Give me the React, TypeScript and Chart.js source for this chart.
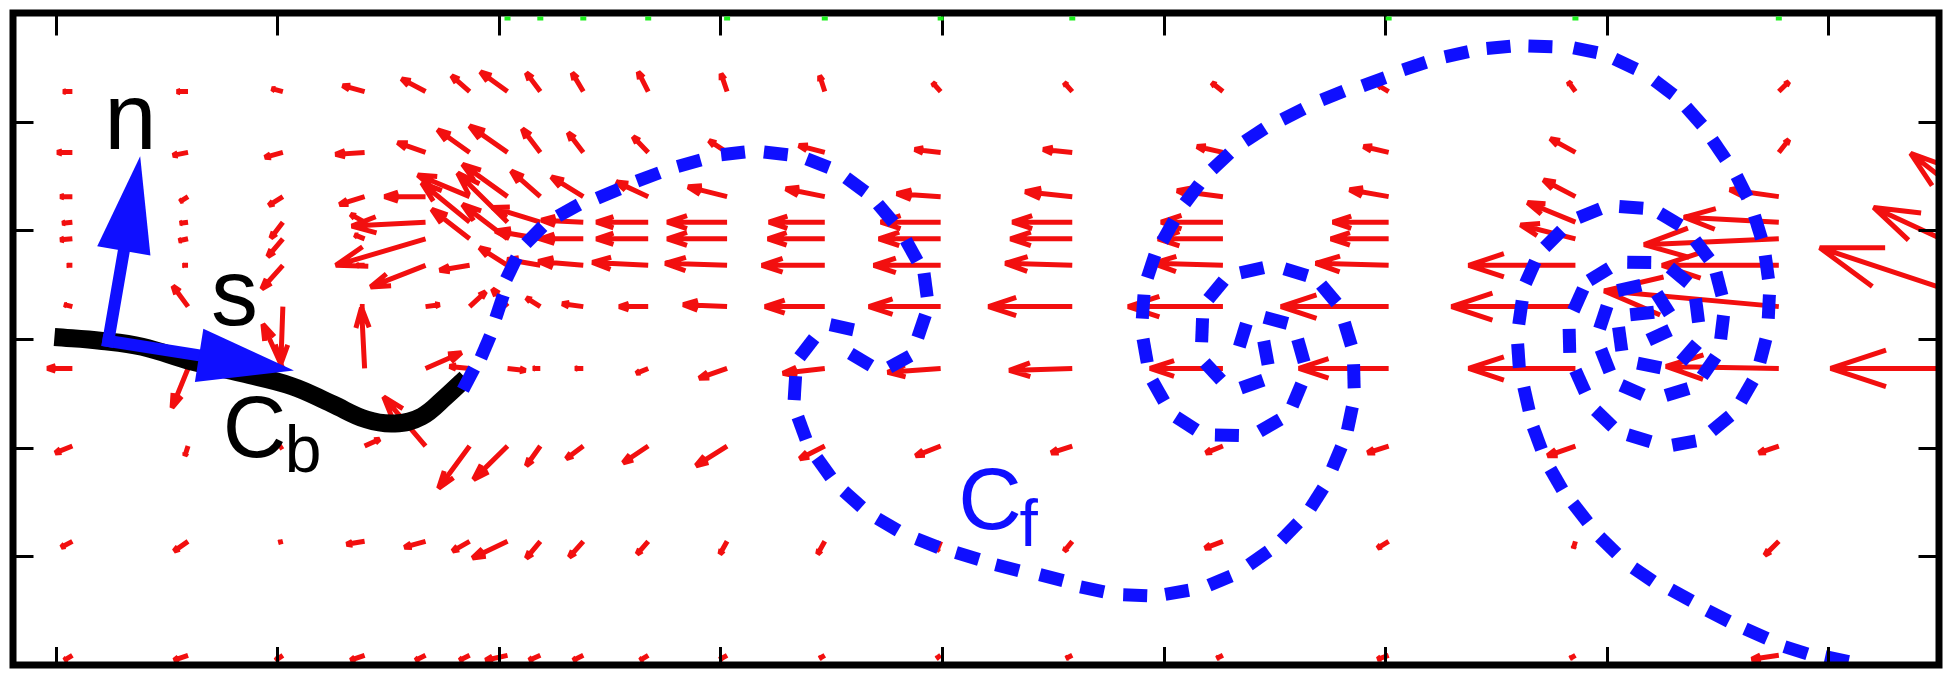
import React, { useEffect, useRef } from "react";
import { Chart, registerables } from "chart.js";

Chart.register(...registerables);

const RED = "#f20f0f";
const BLUE = "#0f0fff";
const GREEN = "#1ef01e";

// Axis ticks (inward marks, no labels)
const xTickValues = [0, 1, 2, 3, 4, 5, 6, 7, 8];
const yTickValues = [-2, -1, 0, 1, 2];

// Velocity field grid (stretched grid)
const quiverX = [0.075, 0.597, 1.025, 1.394, 1.669, 1.868, 2.039, 2.187, 2.381, 2.674, 3.03, 3.471, 3.994, 4.588, 5.268, 6.016, 6.859, 7.777, 8.768];
const quiverY = [2.277, 1.717, 1.31, 1.075, 0.922, 0.678, 0.298, -0.271, -0.985, -1.862, -2.911];
const QUIVER_SCALE = 0.1;

const quiverU = [
  [-0.41, -0.5, -0.5, -0.99, -1.08, -0.81, -1.22, -0.63, -0.5, -0.45, -0.27, -0.23, -0.36, -0.36, -0.5, -0.45, -0.32, 0.45, 0],
  [-0.68, -0.68, -0.81, -1.31, -1.26, -1.44, -1.71, -0.81, -0.68, -0.68, -0.81, -1.17, -1.17, -1.31, -1.17, -1.13, -1.13, 0.45, 0],
  [-0.54, -0.36, -0.63, -1.13, -1.85, -2.34, -2.03, -1.31, -1.44, -1.44, -1.76, -1.76, -1.98, -2.12, -2.07, -1.76, -1.44, -2.21, -1.8],
  [-0.45, -0.36, -0.54, -0.63, -3.33, -2.16, -2.25, -2.16, -1.89, -2.34, -2.7, -2.52, -2.7, -2.7, -2.79, -2.52, -2.16, -4.28, -3.96],
  [-0.54, -0.41, -0.68, -0.45, -4.05, -1.71, -2.03, -2.03, -1.94, -2.34, -2.7, -2.57, -2.79, -2.79, -2.93, -2.61, -2.48, -6.08, -2.25],
  [-0.23, -0.23, -0.95, -0.36, -2.48, -1.35, -1.26, -1.49, -2.03, -2.52, -2.79, -2.84, -3.02, -3.02, -3.15, -3.29, -4.82, -5.27, -5.63],
  [-0.36, -0.68, -0.09, -0.18, 0.63, 0.72, -0.68, -0.63, -0.95, -1.31, -1.98, -2.7, -3.24, -3.78, -4.28, -4.86, -5.59, -7.88, -8.06],
  [-1.13, -0.72, -0.9, -0.14, 1.62, -0.9, 0.81, -0.32, -0.36, -0.54, -1.26, -1.89, -2.39, -2.84, -3.29, -4.05, -4.82, -5.09, -7.57],
  [-0.77, -0.14, -0.14, 0.68, -1.89, -1.4, -1.53, -0.63, -0.77, -1.13, -1.4, -1.13, -1.13, -0.95, -0.77, -0.95, -1.26, -0.9, 0],
  [-0.5, -0.63, -0.18, -0.81, -0.95, -0.77, -1.58, -0.63, -0.63, -0.5, -0.32, -0.32, -0.18, -0.36, -0.81, -0.5, -0.09, -0.63, 0],
  [-0.36, -0.63, -0.32, -0.63, -0.45, -0.45, -0.99, -0.5, -0.45, -0.36, -0.32, -0.23, -0.18, -0.27, -0.27, -0.5, -0.23, -1.22, 0],
];

const quiverV = [
  [0, 0, 0.27, 0.54, 1.17, 1.45, 1.81, 1.72, 1.72, 1.81, 1.63, 1.45, 0.81, 0.81, 0.81, 0.54, 0.9, 0.9, 0],
  [0, -0.27, -0.45, -0.18, 0.9, 2.08, 2.44, 2.17, 1.81, 1.45, 1.08, 0.63, 0.27, 0.27, 0.54, 0.54, 1.27, 1.17, 0],
  [0, -0.45, -0.81, -0.72, 0, 1.99, 2.98, 2.35, 1.81, 1.36, 0.9, 0.72, 0.27, 0.45, 0.54, 0.63, 1.54, 0.63, 0.72],
  [-0.09, -0.09, -1.45, 0.72, -0.36, 3.61, 4.52, 1.36, 0.18, 0, 0, 0, 0, 0, 0, 0, 1.81, 0.45, 6.33],
  [-0.09, -0.18, -1.63, 0.36, -2.44, 2.71, 3.16, 0.72, 0, 0, 0, 0, 0, 0, 0, 0, 1.27, -0.54, 2.71],
  [0, 0, -2.17, 0, -1.99, -0.45, 1.63, 0.54, 0.36, 0.27, 0.18, 0, 0, 0.18, 0.18, 0.18, 0, 0, 5.33],
  [0.18, 1.9, -5.24, 0, 0.18, 1.36, 1.63, 0.81, 0.27, 0, 0.18, 0, 0, 0, 0, 0, 0, 1.45, 5.42],
  [0, -3.61, 4.07, 5.6, 1.45, 0.18, -0.18, 0, 0, -0.45, -0.9, -0.45, -0.36, -0.18, 0, 0, 0, 0.18, 0],
  [-0.63, -0.9, -0.18, 0.63, 4.52, -3.89, -3.07, -1.81, -1.17, -1.54, -1.81, -1.17, -0.9, -0.63, -0.63, -0.63, -0.9, -0.63, 0],
  [-0.54, -0.9, -0.09, -0.27, -0.54, -0.9, -1.54, -1.54, -1.45, -1.17, -1.17, -1.17, -0.9, -0.9, -0.63, -0.63, -0.63, -1.27, 0],
  [-0.45, -0.45, -0.45, -0.45, -0.45, -0.45, -0.45, -0.45, -0.45, -0.45, -0.36, -0.27, -0.27, -0.27, -0.27, -0.36, -0.27, -0.36, 0],
];

// Small green marks along the top edge
const topMarkX = [2.039, 2.187, 2.381, 2.674, 3.03, 3.471, 3.994, 4.588, 6.016, 6.859, 7.777];
const topMarkY = 2.966;

// Body curve C_b (thick black)
const bodyX = [-0.006, 0.21, 0.39, 0.615, 0.841, 1.066, 1.246, 1.403, 1.53, 1.651, 1.764, 1.85];
const bodyY = [0.018, -0.018, -0.072, -0.208, -0.316, -0.434, -0.596, -0.741, -0.777, -0.714, -0.524, -0.361];

// Free vortex sheet C_f (blue dashed), dash centres in order along the curve
const filamentX = [1.863, 1.94, 2.003, 2.057, 2.16, 2.314, 2.494, 2.674, 2.859, 3.057, 3.25, 3.44, 3.611, 3.746, 3.863, 3.926, 3.908, 3.809, 3.633, 3.548, 3.39, 3.336, 3.368, 3.467, 3.597, 3.755, 3.935, 4.115, 4.295, 4.494, 4.678, 4.872, 5.061, 5.255, 5.43, 5.57, 5.692, 5.782, 5.841, 5.859, 5.832, 5.746, 5.597, 5.399, 5.237, 5.174, 5.223, 5.399, 5.462, 5.358, 5.507, 5.62, 5.602, 5.48, 5.286, 5.102, 4.976, 4.917, 4.908, 4.944, 5.021, 5.129, 5.259, 5.412, 5.584, 5.764, 5.949, 6.133, 6.323, 6.512, 6.701, 6.904, 7.084, 7.259, 7.395, 7.507, 7.611, 7.683, 7.723, 7.732, 7.705, 7.633, 7.516, 7.35, 7.147, 6.989, 6.881, 6.832, 6.872, 6.967, 7.147, 7.327, 7.408, 7.372, 7.192, 7.061, 7.16, 7.237, 7.255, 7.102, 6.985, 6.994, 7.115, 7.318, 7.462, 7.521, 7.507, 7.431, 7.286, 7.111, 6.922, 6.759, 6.656, 6.611, 6.602, 6.638, 6.687, 6.773, 6.881, 7.007, 7.165, 7.336, 7.503, 7.674, 7.854, 8.039];
const filamentY = [-0.37, -0.072, 0.298, 0.651, 0.958, 1.184, 1.337, 1.491, 1.617, 1.708, 1.708, 1.617, 1.419, 1.157, 0.813, 0.497, 0.117, -0.208, -0.19, 0.108, -0.081, -0.452, -0.822, -1.184, -1.473, -1.708, -1.879, -1.997, -2.105, -2.196, -2.304, -2.358, -2.331, -2.223, -2.015, -1.771, -1.464, -1.093, -0.732, -0.343, 0.045, 0.416, 0.614, 0.633, 0.452, 0.081, -0.298, -0.416, -0.127, 0.036, 0.172, -0.108, -0.515, -0.795, -0.886, -0.777, -0.479, -0.108, 0.298, 0.669, 0.994, 1.337, 1.635, 1.879, 2.069, 2.241, 2.367, 2.512, 2.62, 2.684, 2.693, 2.657, 2.53, 2.313, 2.051, 1.744, 1.401, 1.03, 0.66, 0.298, -0.108, -0.479, -0.777, -0.958, -0.913, -0.732, -0.389, -0.018, 0.361, 0.596, 0.705, 0.587, 0.262, -0.127, -0.244, 0, 0.235, 0.036, 0.325, 0.47, 0.199, -0.199, -0.47, -0.488, -0.253, 0.108, 0.506, 0.822, 1.102, 1.211, 1.157, 0.922, 0.614, 0.244, -0.154, -0.551, -0.913, -1.292, -1.599, -1.898, -2.169, -2.358, -2.548, -2.711, -2.864, -2.946];

// Local frame vectors (n, s) at the body's leading point
const frameOrigin = [0.237, -0.018];
const normalTip = [0.381, 1.681];
const tangentTip = [1.075, -0.289];

// Text labels
const labelText = ["n", "s", "C", "b", "C", "f"];
const labelX = [0.219, 0.701, 0.754, 1.033, 4.073, 4.35];
const labelY = [1.744, 0.127, -1.084, -1.22, -1.753, -1.907];
const labelSize = [94, 94, 88, 66, 88, 66];
const labelColor = ["#000000", "#000000", "#000000", "#000000", BLUE, BLUE];

function makeRect(w: number, h: number, color: string) {
  const c = document.createElement("canvas");
  c.width = w;
  c.height = h;
  const g = c.getContext("2d")!;
  g.fillStyle = color;
  g.fillRect(0, 0, w, h);
  return c;
}

function drawBlockArrow(ctx: CanvasRenderingContext2D, x0: number, y0: number, x1: number, y1: number) {
  const headLen = 96;
  const headHalf = 27;
  const dx = x1 - x0;
  const dy = y1 - y0;
  const L = Math.hypot(dx, dy);
  const ux = dx / L;
  const uy = dy / L;
  const bx = x1 - ux * headLen;
  const by = y1 - uy * headLen;
  ctx.strokeStyle = BLUE;
  ctx.fillStyle = BLUE;
  ctx.lineWidth = 12;
  ctx.lineCap = "square";
  ctx.beginPath();
  ctx.moveTo(x0, y0);
  ctx.lineTo(bx + ux * 4, by + uy * 4);
  ctx.stroke();
  ctx.beginPath();
  ctx.moveTo(x1, y1);
  ctx.lineTo(bx - uy * headHalf, by + ux * headHalf);
  ctx.lineTo(bx + uy * headHalf, by - ux * headHalf);
  ctx.closePath();
  ctx.fill();
}

const quiverPlugin = {
  id: "quiverField",
  beforeDatasetsDraw(chart: any) {
    const { ctx, chartArea: a, scales } = chart;
    const xs = scales.x;
    const ys = scales.y;
    ctx.save();
    ctx.beginPath();
    ctx.rect(a.left, a.top, a.right - a.left, a.bottom - a.top);
    ctx.clip();
    ctx.strokeStyle = RED;
    ctx.lineWidth = 5;
    ctx.lineCap = "butt";
    ctx.lineJoin = "bevel";
    for (let r = 0; r < quiverY.length; r++) {
      for (let c = 0; c < quiverX.length; c++) {
        const u = quiverU[r][c] * QUIVER_SCALE;
        const v = quiverV[r][c] * QUIVER_SCALE;
        if (u === 0 && v === 0) continue;
        const x0 = xs.getPixelForValue(quiverX[c]);
        const y0 = ys.getPixelForValue(quiverY[r]);
        const x1 = xs.getPixelForValue(quiverX[c] + u);
        const y1 = ys.getPixelForValue(quiverY[r] + v);
        const dx = x1 - x0;
        const dy = y1 - y0;
        const al = 0.33;
        const be = 0.33;
        const hx1 = x1 - al * (dx + be * dy);
        const hy1 = y1 - al * (dy - be * dx);
        const hx2 = x1 - al * (dx - be * dy);
        const hy2 = y1 - al * (dy + be * dx);
        ctx.beginPath();
        ctx.moveTo(x0, y0);
        ctx.lineTo(x1, y1);
        ctx.moveTo(hx1, hy1);
        ctx.lineTo(x1, y1);
        ctx.lineTo(hx2, hy2);
        ctx.stroke();
      }
    }
    ctx.restore();
  },
};

const overlayPlugin = {
  id: "overlay",
  afterDatasetsDraw(chart: any) {
    const { ctx, chartArea: a, scales } = chart;
    const xs = scales.x;
    const ys = scales.y;
    ctx.save();
    // n and s unit vectors
    const ox = xs.getPixelForValue(frameOrigin[0]);
    const oy = ys.getPixelForValue(frameOrigin[1]);
    drawBlockArrow(ctx, ox, oy, xs.getPixelForValue(tangentTip[0]), ys.getPixelForValue(tangentTip[1]));
    drawBlockArrow(ctx, ox, oy, xs.getPixelForValue(normalTip[0]), ys.getPixelForValue(normalTip[1]));

    // labels
    ctx.textAlign = "left";
    ctx.textBaseline = "alphabetic";
    for (let i = 0; i < labelText.length; i++) {
      ctx.font = `${labelSize[i]}px "Liberation Sans", Arial, sans-serif`;
      ctx.fillStyle = labelColor[i];
      ctx.fillText(labelText[i], xs.getPixelForValue(labelX[i]), ys.getPixelForValue(labelY[i]));
    }

    // frame and inward ticks
    ctx.strokeStyle = "#000";
    ctx.lineWidth = 7;
    ctx.lineJoin = "miter";
    ctx.strokeRect(a.left, a.top, a.right - a.left, a.bottom - a.top);
    ctx.lineWidth = 3;
    ctx.lineCap = "butt";
    ctx.beginPath();
    for (const v of xTickValues) {
      const px = Math.round(xs.getPixelForValue(v)) + 0.5;
      ctx.moveTo(px, a.top + 3);
      ctx.lineTo(px, a.top + 22.5);
      ctx.moveTo(px, a.bottom - 3);
      ctx.lineTo(px, a.bottom - 18);
    }
    for (const v of yTickValues) {
      const py = Math.round(ys.getPixelForValue(v)) + 0.5;
      ctx.moveTo(a.left + 3, py);
      ctx.lineTo(a.left + 20.5, py);
      ctx.moveTo(a.right - 3, py);
      ctx.lineTo(a.right - 20.5, py);
    }
    ctx.stroke();

    // green marks just below the top edge (drawn over the frame line)
    const gw = 6;
    const gh = 4;
    ctx.fillStyle = GREEN;
    for (const v of topMarkX) {
      const px = xs.getPixelForValue(v);
      const py = ys.getPixelForValue(topMarkY);
      if (px < a.left || px > a.right) continue;
      ctx.fillRect(px - gw / 2, Math.max(py - gh / 2, a.top + 3.5), gw, gh);
    }
    ctx.restore();
  },
};

export default function App() {
  const canvasRef = useRef<HTMLCanvasElement | null>(null);

  useEffect(() => {
    const canvas = canvasRef.current;
    if (!canvas) return;
    const dashImg = makeRect(24, 13, BLUE);

    const nF = Math.min(filamentX.length, filamentY.length);
    const filamentData = [] as { x: number; y: number }[];
    for (let i = 0; i < nF; i++) filamentData.push({ x: filamentX[i], y: filamentY[i] });

    const bodyData = bodyX.map((x, i) => ({ x, y: bodyY[i] }));

    const chart = new Chart(canvas, {
      type: "scatter",
      data: {
        datasets: [
          {
            label: "C_b",
            data: bodyData,
            showLine: true,
            borderColor: "#000000",
            borderWidth: 18,
            borderCapStyle: "butt",
            tension: 0.4,
            pointRadius: 0,
            order: 3,
          } as any,
          {
            label: "C_f",
            data: filamentData,
            showLine: false,
            pointStyle: dashImg as any,
            pointRadius: 12,
            pointRotation: (ctx: any) => {
              const i = ctx.dataIndex;
              const xs = ctx.chart.scales.x;
              const ys = ctx.chart.scales.y;
              if (!xs || !ys) return 0;
              const a = Math.max(0, i - 1);
              const b = Math.min(nF - 1, i + 1);
              const dx = xs.getPixelForValue(filamentX[b]) - xs.getPixelForValue(filamentX[a]);
              const dy = ys.getPixelForValue(filamentY[b]) - ys.getPixelForValue(filamentY[a]);
              return (Math.atan2(dy, dx) * 180) / Math.PI;
            },
            order: 2,
          } as any,
        ],
      },
      options: {
        responsive: false,
        animation: false,
        events: [],
        devicePixelRatio: 1,
        layout: { padding: { left: 10.5, right: 11.5, top: 10, bottom: 4 } },
        scales: {
          x: { type: "linear", min: -0.193, max: 8.5, display: false },
          y: { type: "linear", min: -3, max: 3, display: false },
        },
        plugins: {
          legend: { display: false },
          tooltip: { enabled: false },
        },
      },
      plugins: [quiverPlugin, overlayPlugin],
    });
    return () => chart.destroy();
  }, []);

  return (
    <div style={{ position: "fixed", left: 0, top: 0, width: 1952, height: 678, background: "#fff" }}>
      <canvas ref={canvasRef} width={1952} height={678} style={{ display: "block", width: 1952, height: 678 }} />
    </div>
  );
}
